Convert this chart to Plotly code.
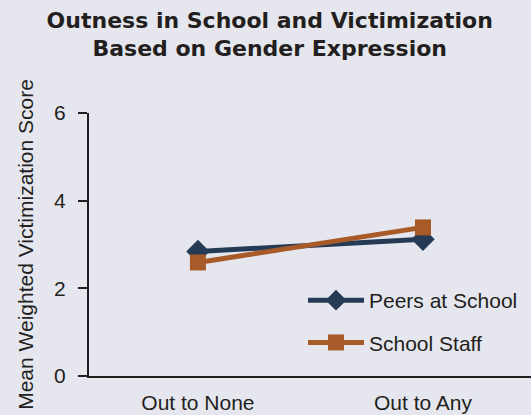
import plotly.graph_objects as go

categories = ["Out to None", "Out to Any"]
peers = [2.84, 3.12]
staff = [2.59, 3.39]
y_ticks = [0, 2, 4, 6]

TEXT = "#231f20"
BG = "#e6e7ee"

fig = go.Figure()
fig.add_trace(go.Scatter(
    x=categories, y=peers, name="Peers at School", mode="lines+markers",
    legendgroup="a",
    line=dict(color="#243a55", width=5),
    marker=dict(symbol="diamond", size=18, color="#243a55"),
))
fig.add_trace(go.Scatter(
    x=categories, y=staff, name="School Staff", mode="lines+markers",
    legendgroup="b",
    line=dict(color="#a95a29", width=5),
    marker=dict(symbol="square", size=16, color="#a95a29"),
))

fig.update_layout(
    width=531, height=415,
    paper_bgcolor=BG, plot_bgcolor=BG,
    margin=dict(l=89, r=0, t=113, b=39),
    title=dict(
        text="Outness in School and Victimization<br>Based on Gender Expression",
        font=dict(family="DejaVu Sans", size=22, color=TEXT, weight="bold"),
        x=0.508, xanchor="center", y=0.933, yanchor="middle",
    ),
    font=dict(family="Liberation Sans, Arial", size=21, color=TEXT),
    xaxis=dict(
        type="category", range=[-0.484, 1.48],
        showgrid=False, showline=True, linecolor=TEXT, linewidth=2,
        ticks="", tickfont=dict(size=21), zeroline=False,
        ticklabelstandoff=7,
    ),
    yaxis=dict(
        range=[0, 6], tickvals=y_ticks, showgrid=False, zeroline=False,
        showline=True, linecolor=TEXT, linewidth=2,
        ticks="outside", ticklen=9, tickwidth=1.5, tickcolor=TEXT,
        tickfont=dict(size=21), ticklabelstandoff=8,
        title=dict(text="Mean Weighted Victimization Score", font=dict(size=21), standoff=15),
    ),
    legend=dict(
        x=(303 - 89) / 442, y=0.365, xanchor="left", yanchor="top",
        bgcolor="rgba(0,0,0,0)", font=dict(size=21), itemwidth=56,
        tracegroupgap=12, traceorder="grouped", itemsizing="trace",
    ),
    showlegend=True,
)

fig.write_html("out.html", config={"displayModeBar": False},
               post_script="document.body.style.margin='0';")
